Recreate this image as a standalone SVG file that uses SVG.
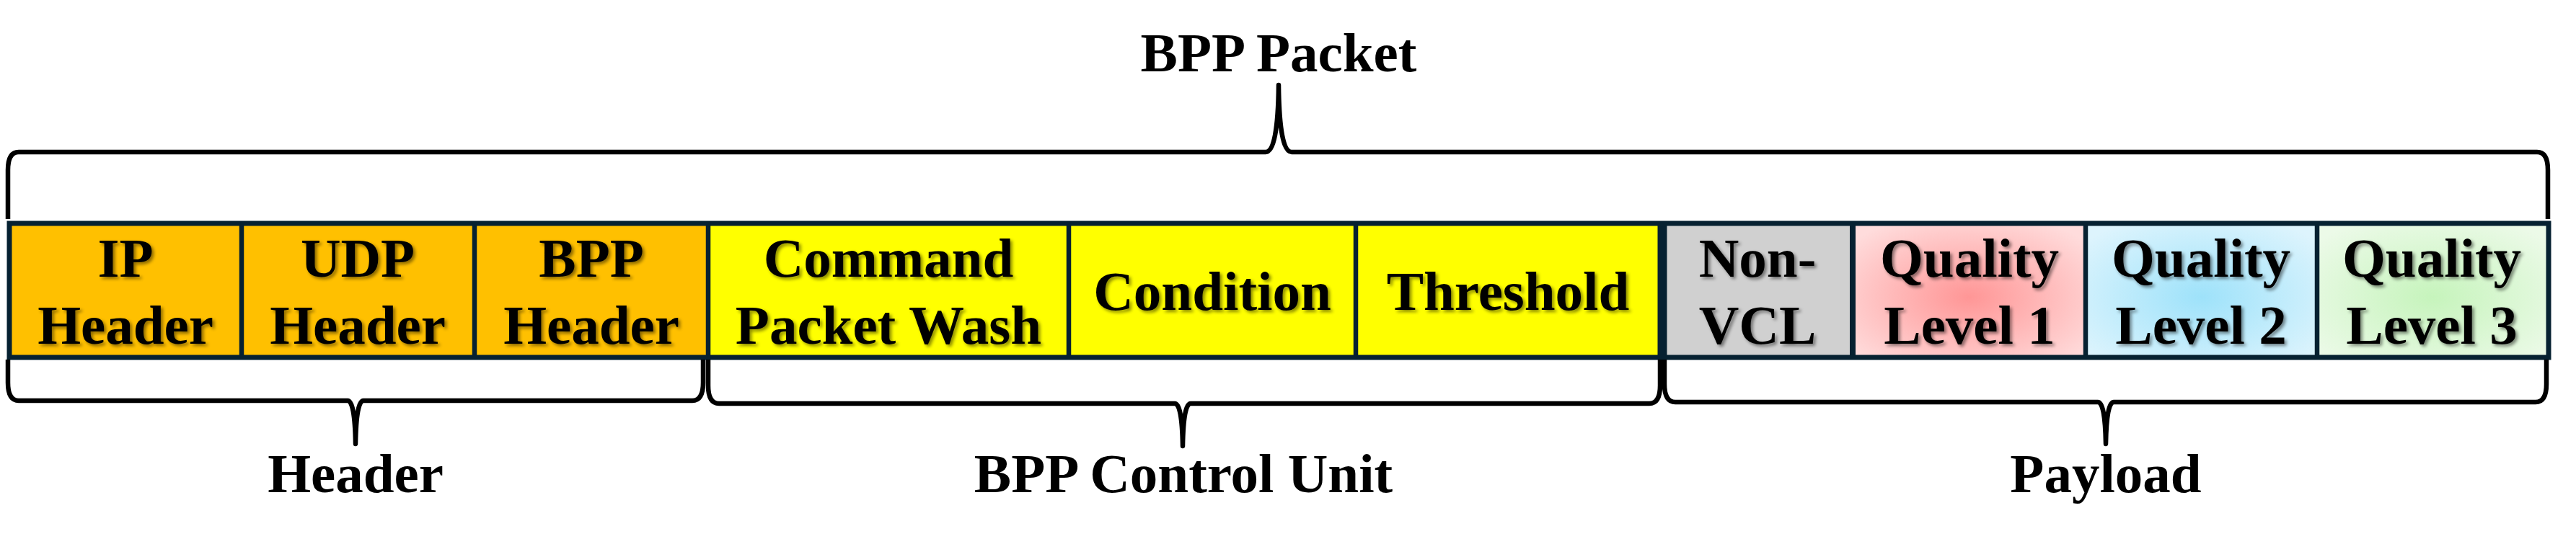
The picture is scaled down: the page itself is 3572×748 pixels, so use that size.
<svg xmlns="http://www.w3.org/2000/svg" width="3572" height="748" viewBox="0 0 3572 748">
  <style>
    .t { font-family: "Liberation Serif", "Times New Roman", serif; font-weight: bold; font-size: 77px; text-anchor: middle; fill: #000; }
    .cell { filter: url(#sh); }
    .brace { fill: none; stroke: #000; stroke-width: 6.5; stroke-linejoin: round; stroke-linecap: butt; }
    .div { stroke: #062131; stroke-width: 6.5; }
  </style>
  <defs>
    <filter id="sh" x="-10%" y="-20%" width="130%" height="150%">
      <feDropShadow dx="3" dy="3" stdDeviation="2" flood-color="#000" flood-opacity="0.45"/>
    </filter>
    <radialGradient id="g1" cx="0.5" cy="0.55" r="0.65">
      <stop offset="0" stop-color="#FF9696"/>
      <stop offset="1" stop-color="#FFDCDC"/>
    </radialGradient>
    <radialGradient id="g2" cx="0.5" cy="0.55" r="0.65">
      <stop offset="0" stop-color="#9EE2FA"/>
      <stop offset="1" stop-color="#DDF4FD"/>
    </radialGradient>
    <radialGradient id="g3" cx="0.5" cy="0.55" r="0.65">
      <stop offset="0" stop-color="#C6F4BC"/>
      <stop offset="1" stop-color="#ECFAE8"/>
    </radialGradient>
  </defs>
  <rect width="3572" height="748" fill="#fff"/>

  <text class="t" x="1773" y="99">BPP Packet</text>

  <g id="cell-ip-header">
    <rect x="13" y="310" width="322" height="186" fill="#FFC000"/>
    <text class="t cell" x="174" y="384">IP</text>
    <text class="t cell" x="174" y="477">Header</text>
  </g>
  <g id="cell-udp-header">
    <rect x="335" y="310" width="323" height="186" fill="#FFC000"/>
    <text class="t cell" x="496" y="384">UDP</text>
    <text class="t cell" x="496" y="477">Header</text>
  </g>
  <g id="cell-bpp-header">
    <rect x="658" y="310" width="324" height="186" fill="#FFC000"/>
    <text class="t cell" x="820" y="384">BPP</text>
    <text class="t cell" x="820" y="477">Header</text>
  </g>
  <g id="cell-command">
    <rect x="982" y="310" width="500" height="186" fill="#FFFF00"/>
    <text class="t cell" x="1232" y="384">Command</text>
    <text class="t cell" x="1232" y="477">Packet Wash</text>
  </g>
  <g id="cell-condition">
    <rect x="1482" y="310" width="398" height="186" fill="#FFFF00"/>
    <text class="t cell" x="1681" y="430">Condition</text>
  </g>
  <g id="cell-threshold">
    <rect x="1880" y="310" width="425" height="186" fill="#FFFF00"/>
    <text class="t cell" x="2091" y="430">Threshold</text>
  </g>
  <g id="cell-non-vcl">
    <rect x="2305" y="310" width="264" height="186" fill="#D0D0D0"/>
    <text class="t cell" x="2437" y="384">Non-</text>
    <text class="t cell" x="2437" y="477">VCL</text>
  </g>
  <g id="cell-quality-1">
    <rect x="2569" y="310" width="323" height="186" fill="url(#g1)"/>
    <text class="t cell" x="2731" y="384">Quality</text>
    <text class="t cell" x="2731" y="477">Level 1</text>
  </g>
  <g id="cell-quality-2">
    <rect x="2892" y="310" width="321" height="186" fill="url(#g2)"/>
    <text class="t cell" x="3052" y="384">Quality</text>
    <text class="t cell" x="3052" y="477">Level 2</text>
  </g>
  <g id="cell-quality-3">
    <rect x="3213" y="310" width="321" height="186" fill="url(#g3)"/>
    <text class="t cell" x="3372" y="384">Quality</text>
    <text class="t cell" x="3372" y="477">Level 3</text>
  </g>

  <g id="borders">
    <line class="div" x1="335" y1="310" x2="335" y2="496"/>
    <line class="div" x1="658" y1="310" x2="658" y2="496"/>
    <line class="div" x1="982" y1="310" x2="982" y2="496"/>
    <line class="div" x1="1482" y1="310" x2="1482" y2="496"/>
    <line class="div" x1="1880" y1="310" x2="1880" y2="496"/>
    <line class="div" x1="2305" y1="310" x2="2305" y2="496" style="stroke-width:13"/>
    <line class="div" x1="2569" y1="310" x2="2569" y2="496" style="stroke-width:8"/>
    <line class="div" x1="2892" y1="310" x2="2892" y2="496"/>
    <line class="div" x1="3213" y1="310" x2="3213" y2="496"/>
    <rect x="13" y="310" width="3521" height="186" fill="none" stroke="#062131" stroke-width="7"/>
  </g>

  <g id="connectors">
    <path class="brace" d="M 11 304 L 11 236 Q 11 211 26 211 L 1755 211 Q 1772 211 1773 118 Q 1774 211 1791 211 L 3518 211 Q 3533 211 3533 236 L 3533 304"/>
    <path class="brace" d="M 11 499 L 11 531 Q 11 556 26 556 L 482 556 Q 492 556 493 616 Q 494 556 504 556 L 960 556 Q 975 556 975 531 L 975 499"/>
    <path class="brace" d="M 982 499 L 982 535 Q 982 560 997 560 L 1629 560 Q 1639 560 1640 619 Q 1641 560 1651 560 L 2287 560 Q 2302 560 2302 535 L 2302 499"/>
    <path class="brace" d="M 2308 499 L 2308 533 Q 2308 558 2323 558 L 2909 558 Q 2919 558 2920 616 Q 2921 558 2931 558 L 3516 558 Q 3531 558 3531 533 L 3531 499"/>
  </g>

  <g id="labels">
    <text class="t" x="493" y="683">Header</text>
    <text class="t" x="1641" y="683">BPP Control Unit</text>
    <text class="t" x="2920" y="683">Payload</text>
  </g>
</svg>
